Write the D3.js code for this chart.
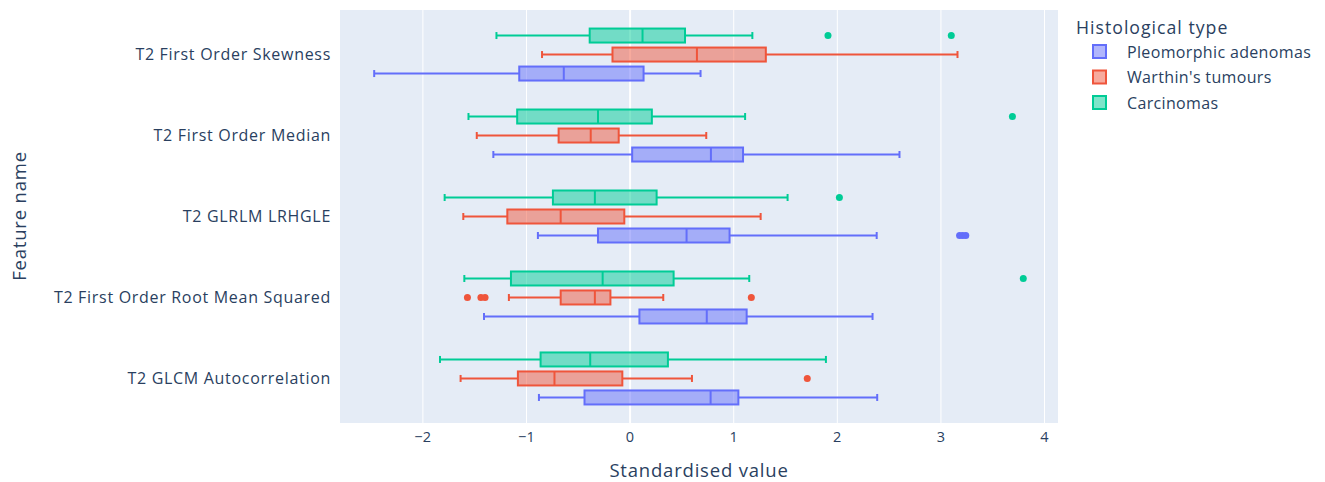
<!DOCTYPE html>
<html>
<head>
<meta charset="utf-8">
<script src="https://cdn.jsdelivr.net/npm/d3@7.9.0/dist/d3.min.js"></script>
<style>
  body { margin: 0; background: #fff; }
  text { font-family: "Open Sans", verdana, arial, sans-serif; fill: #2a3f5f; }
</style>
</head>
<body>
<svg id="chart" width="1325" height="482"></svg>
<script>
// features, top to bottom
const features = ["T2 First Order Skewness", "T2 First Order Median", "T2 GLRLM LRHGLE",
  "T2 First Order Root Mean Squared", "T2 GLCM Autocorrelation"];
const groups = ["Pleomorphic adenomas", "Warthin's tumours", "Carcinomas"];
const colors = ["#636efa", "#EF553B", "#00cc96"];
const xTicks = [-2, -1, 0, 1, 2, 3, 4];

// Pleomorphic adenomas
const paLow = [-2.47, -1.32, -0.89, -1.41, -0.88];
const paQ1 = [-1.07, 0.02, -0.31, 0.09, -0.44];
const paMed = [-0.64, 0.78, 0.545, 0.74, 0.777];
const paQ3 = [0.13, 1.09, 0.96, 1.125, 1.045];
const paHigh = [0.68, 2.60, 2.38, 2.34, 2.385];
const paOut = [[], [], [3.18, 3.21, 3.24], [], []];

// Warthin's tumours
const wtLow = [-0.85, -1.48, -1.61, -1.17, -1.636];
const wtQ1 = [-0.17, -0.69, -1.185, -0.67, -1.083];
const wtMed = [0.645, -0.38, -0.67, -0.34, -0.73];
const wtQ3 = [1.31, -0.11, -0.056, -0.19, -0.075];
const wtHigh = [3.16, 0.735, 1.26, 0.32, 0.597];
const wtOut = [[], [], [], [-1.57, -1.44, -1.40, 1.17], [1.71]];

// Carcinomas
const caLow = [-1.29, -1.56, -1.79, -1.60, -1.835];
const caQ1 = [-0.39, -1.09, -0.745, -1.15, -0.864];
const caMed = [0.12, -0.31, -0.34, -0.265, -0.385];
const caQ3 = [0.53, 0.21, 0.256, 0.42, 0.365];
const caHigh = [1.18, 1.11, 1.52, 1.15, 1.89];
const caOut = [[1.91, 3.10], [3.69], [2.02], [3.795], []];

const stats = [
  [paLow, paQ1, paMed, paQ3, paHigh, paOut],
  [wtLow, wtQ1, wtMed, wtQ3, wtHigh, wtOut],
  [caLow, caQ1, caMed, caQ3, caHigh, caOut]
];

const svg = d3.select("#chart");
const plot = { left: 340, right: 1058, top: 10, bottom: 423 };

const x = d3.scaleLinear().domain([-2.8, 4.13]).range([plot.left, plot.right]);
const y = d3.scaleBand().domain(features).range([plot.top, plot.bottom]).paddingOuter(0.05);
// group offset inside each feature band (carcinomas on top)
const off = d3.scalePoint().domain([...groups].reverse()).range([-19, 19]);
const boxH = 14;

svg.append("rect")
  .attr("x", plot.left).attr("y", plot.top)
  .attr("width", plot.right - plot.left).attr("height", plot.bottom - plot.top)
  .attr("fill", "#e5ecf6");

// vertical grid
svg.append("g").selectAll("line").data(xTicks).join("line")
  .attr("x1", d => x(d)).attr("x2", d => x(d))
  .attr("y1", plot.top).attr("y2", plot.bottom)
  .attr("stroke", "#fff").attr("stroke-width", d => d === 0 ? 2 : 1);

// x tick labels
svg.append("g").selectAll("text").data(xTicks).join("text")
  .attr("x", d => x(d)).attr("y", 442)
  .attr("text-anchor", "middle").style("font-size", "14.5px")
  .style("letter-spacing", "0.3px")
  .text(d => d < 0 ? "\u2212" + Math.abs(d) : d);

// y tick labels
svg.append("g").selectAll("text").data(features).join("text")
  .attr("x", 331).attr("y", d => y(d) + y.bandwidth() / 2 + 5.5)
  .attr("text-anchor", "end").style("font-size", "16px")
  .style("letter-spacing", "0.7px")
  .text(d => d);

// axis titles
svg.append("text").attr("x", 699).attr("y", 477)
  .attr("text-anchor", "middle").style("font-size", "18.5px")
  .style("letter-spacing", "0.8px")
  .text("Standardised value");
svg.append("text")
  .attr("transform", "translate(26,216) rotate(-90)")
  .attr("text-anchor", "middle").style("font-size", "18.5px")
  .style("letter-spacing", "0.8px")
  .text("Feature name");

// boxes
groups.forEach((g, gi) => {
  const [lo, q1, med, q3, hi, outs] = stats[gi];
  const c = colors[gi];
  const layer = svg.append("g");
  features.forEach((f, fi) => {
    const cy = y(f) + y.bandwidth() / 2 + off(g);
    // whiskers
    layer.append("line")
      .attr("x1", x(lo[fi])).attr("x2", x(q1[fi]))
      .attr("y1", cy).attr("y2", cy)
      .attr("stroke", c).attr("stroke-width", 2);
    layer.append("line")
      .attr("x1", x(q3[fi])).attr("x2", x(hi[fi]))
      .attr("y1", cy).attr("y2", cy)
      .attr("stroke", c).attr("stroke-width", 2);
    [lo[fi], hi[fi]].forEach(v => {
      layer.append("line")
        .attr("x1", x(v)).attr("x2", x(v))
        .attr("y1", cy - 3.5).attr("y2", cy + 3.5)
        .attr("stroke", c).attr("stroke-width", 2);
    });
    // box
    layer.append("rect")
      .attr("x", x(q1[fi])).attr("y", cy - boxH / 2)
      .attr("width", x(q3[fi]) - x(q1[fi])).attr("height", boxH)
      .attr("fill", c).attr("fill-opacity", 0.5)
      .attr("stroke", c).attr("stroke-width", 2);
    layer.append("line")
      .attr("x1", x(med[fi])).attr("x2", x(med[fi]))
      .attr("y1", cy - boxH / 2).attr("y2", cy + boxH / 2)
      .attr("stroke", c).attr("stroke-width", 2);
    // outliers
    layer.selectAll(null).data(outs[fi]).join("circle")
      .attr("cx", d => x(d)).attr("cy", cy).attr("r", 3.5)
      .attr("fill", c);
  });
});

// legend
const legend = svg.append("g");
legend.append("text").attr("x", 1076).attr("y", 34)
  .style("font-size", "17.7px").style("letter-spacing", "1px")
  .text("Histological type");
groups.forEach((g, gi) => {
  const ly = 52 + gi * 25.5;
  legend.append("rect")
    .attr("x", 1093).attr("y", ly - 7).attr("width", 13).attr("height", 13)
    .attr("fill", colors[gi]).attr("fill-opacity", 0.5)
    .attr("stroke", colors[gi]).attr("stroke-width", 2);
  legend.append("text").attr("x", 1127).attr("y", ly + 5.5)
    .style("font-size", "16px").style("letter-spacing", "0.35px")
    .text(g);
});
</script>
</body>
</html>
